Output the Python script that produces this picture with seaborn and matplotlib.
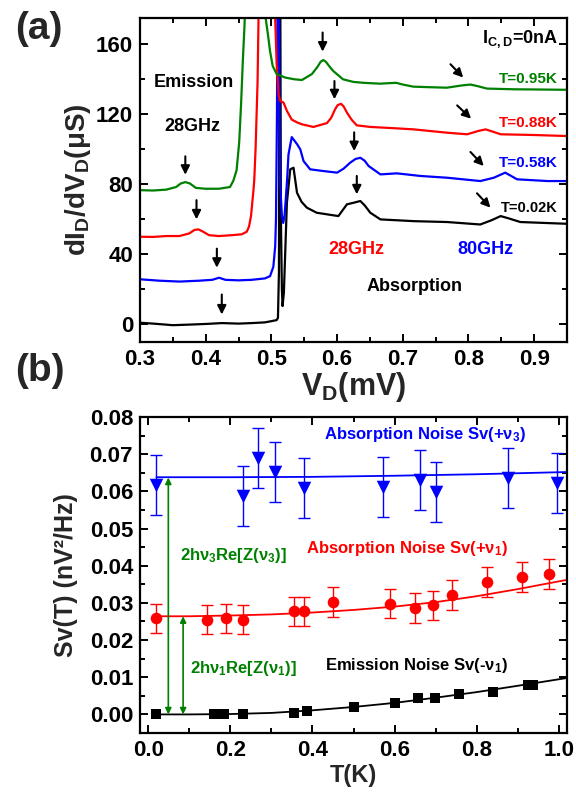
import matplotlib
matplotlib.use("Agg")
import matplotlib.pyplot as plt
import seaborn as sns
import numpy as np
from matplotlib.ticker import MultipleLocator, FormatStrFormatter

# ---------------- Panel (a) data: dI/dV traces ----------------
green_v = [0.30, 0.32, 0.34, 0.355, 0.362, 0.369, 0.376, 0.385, 0.40, 0.42, 0.437, 0.442, 0.447, 0.451,
           0.454, 0.4566, 0.459, 0.462, 0.488, 0.4916, 0.4946, 0.498, 0.502, 0.508, 0.521, 0.535, 0.5465,
           0.5617, 0.570, 0.575, 0.579, 0.583, 0.588, 0.594, 0.609, 0.625, 0.640, 0.665, 0.690, 0.700,
           0.716, 0.740, 0.767, 0.790, 0.803, 0.815, 0.828, 0.869, 0.900, 0.950]
green_g = [76.7, 76.5, 77.0, 78.5, 80.5, 81.3, 80.5, 78.0, 77.5, 77.5, 78.5, 82.0, 88.0, 104.0,
           127.0, 151.0, 170.0, 200.0, 200.0, 174.0, 166.0, 156.0, 147.6, 143.0, 141.0, 140.0, 139.6,
           143.0, 147.0, 150.0, 151.0, 150.0, 147.5, 144.8, 140.0, 138.5, 138.0, 137.5, 138.0, 137.0,
           135.8, 135.5, 135.2, 136.5, 137.0, 136.0, 134.7, 134.3, 134.2, 134.0]

red_v = [0.30, 0.32, 0.34, 0.36, 0.375, 0.383, 0.389, 0.396, 0.405, 0.42, 0.44, 0.455, 0.4626, 0.466,
         0.469, 0.4728, 0.474, 0.476, 0.479, 0.4805, 0.482, 0.504, 0.5058, 0.508, 0.511, 0.5134, 0.5185,
         0.5236, 0.531, 0.539, 0.5465, 0.564, 0.5846, 0.591, 0.597, 0.601, 0.606, 0.610, 0.615, 0.622,
         0.630, 0.6506, 0.690, 0.717, 0.7675, 0.798, 0.815, 0.826, 0.838, 0.849, 0.899, 0.950]
red_g = [50.1, 50.0, 50.5, 50.5, 52.0, 54.0, 54.3, 53.0, 51.0, 50.5, 51.0, 51.5, 53.0, 56.0,
         62.0, 77.0, 83.0, 101.0, 139.0, 177.0, 220.0, 220.0, 175.0, 148.6, 131.0, 127.6, 126.7,
         122.0, 117.0, 115.4, 114.3, 112.8, 115.0, 118.0, 122.9, 125.3, 126.0, 124.5, 121.0, 117.0,
         113.7, 112.8, 112.0, 111.4, 109.5, 108.6, 110.5, 111.4, 110.0, 108.6, 108.2, 107.6]

blue_v = [0.30, 0.33, 0.36, 0.39, 0.41, 0.4204, 0.43, 0.45, 0.47, 0.49, 0.498, 0.503, 0.5058, 0.507,
          0.5085, 0.5095, 0.5115, 0.5125, 0.5134, 0.516, 0.518, 0.520, 0.522, 0.524, 0.526, 0.531,
          0.539, 0.544, 0.549, 0.559, 0.5794, 0.600, 0.610, 0.620, 0.628, 0.6354, 0.642, 0.648, 0.666,
          0.691, 0.727, 0.7675, 0.818, 0.8386, 0.856, 0.874, 0.920, 0.950]
blue_g = [25.8, 25.0, 24.5, 25.0, 25.5, 26.7, 25.5, 25.2, 25.5, 26.3, 27.6, 33.0, 44.7, 60.0,
          120.0, 200.0, 200.0, 120.0, 80.0, 62.0, 58.0, 62.0, 72.0, 83.0, 97.0, 107.0,
          103.0, 100.0, 93.3, 88.6, 87.6, 86.7, 89.0, 92.4, 94.5, 95.2, 93.5, 90.5, 85.7,
          86.3, 84.8, 83.8, 81.9, 83.8, 86.7, 82.9, 81.9, 81.9]

black_v = [0.30, 0.32, 0.35, 0.38, 0.40, 0.425, 0.45, 0.47, 0.49, 0.50, 0.508, 0.510, 0.5115, 0.5125,
           0.5135, 0.5145, 0.516, 0.517, 0.519, 0.5236, 0.5287, 0.5337, 0.539, 0.546, 0.554, 0.569,
           0.602, 0.608, 0.615, 0.625, 0.6354, 0.642, 0.6506, 0.666, 0.717, 0.7675, 0.818, 0.835, 0.849,
           0.862, 0.879, 0.950]
black_g = [1.0, 0.5, -0.4, 0.0, 0.3, 0.8, 0.5, 0.8, 1.2, 1.9, 2.5, 3.8, 30.0, 200.0,
           200.0, 60.0, 20.0, 10.5, 18.0, 69.5, 88.6, 89.5, 75.2, 70.0, 66.7, 63.8,
           61.9, 65.0, 68.6, 69.5, 70.5, 68.0, 63.8, 60.0, 59.0, 58.5, 57.1, 59.5, 61.9,
           60.5, 58.5, 57.5]

# ---------------- Panel (b) data: noise vs temperature ----------------
emis_T = [0.02, 0.16, 0.185, 0.23, 0.356, 0.387, 0.50, 0.60, 0.656, 0.698, 0.756, 0.839, 0.924, 0.936]
emis_S = [0.0, 0.0, 0.0, 0.0, 0.0005, 0.0008, 0.0020, 0.0030, 0.0043, 0.0045, 0.0056, 0.0060, 0.0078, 0.0078]

abs1_T = [0.02, 0.143, 0.19, 0.232, 0.355, 0.379, 0.449, 0.588, 0.649, 0.693, 0.741, 0.824, 0.91, 0.976]
abs1_S = [0.0258, 0.0255, 0.0258, 0.0255, 0.0277, 0.0277, 0.0303, 0.0298, 0.0287, 0.0293, 0.0322, 0.0357, 0.0370, 0.0378]
abs1_err = [0.004, 0.004, 0.004, 0.004, 0.004, 0.004, 0.004, 0.004, 0.004, 0.004, 0.004, 0.004, 0.004, 0.004]

abs3_T = [0.02, 0.232, 0.268, 0.31, 0.38, 0.571, 0.661, 0.702, 0.876, 0.995]
abs3_S = [0.0617, 0.0588, 0.0690, 0.0652, 0.0609, 0.0612, 0.0630, 0.0598, 0.0636, 0.0623]
abs3_err = [0.008, 0.008, 0.008, 0.008, 0.008, 0.008, 0.008, 0.008, 0.008, 0.008]

fit3_T = [0.02, 0.2, 0.4, 0.6, 0.8, 1.02]
fit3_S = [0.0638, 0.0638, 0.0639, 0.0642, 0.0646, 0.0652]
fit1_T = [0.02, 0.1, 0.2, 0.3, 0.4, 0.5, 0.6, 0.7, 0.8, 0.9, 1.02]
fit1_S = [0.0264, 0.0264, 0.0266, 0.0269, 0.0274, 0.0281, 0.0290, 0.0302, 0.0318, 0.0337, 0.0362]
fitE_T = [0.02, 0.1, 0.2, 0.3, 0.4, 0.5, 0.6, 0.7, 0.8, 0.9, 1.02]
fitE_S = [0.0, 0.0, 0.0001, 0.0004, 0.0011, 0.0020, 0.0031, 0.0045, 0.0060, 0.0077, 0.0098]

GREEN = "#008000"
RED = "#ff0000"
BLUE = "#0000ff"
BLACK = "#000000"

sns.set_theme(style="ticks")
plt.rcParams["font.family"] = ["Liberation Sans", "DejaVu Sans"]
plt.rcParams["font.weight"] = "bold"
plt.rcParams["axes.labelweight"] = "bold"
plt.rcParams["mathtext.default"] = "regular"

fig = plt.figure(figsize=(5.76, 7.93), dpi=100)
ax1 = fig.add_axes([140/576, 1-342/793, 427/576, 324/793])
ax2 = fig.add_axes([140/576, 1-733/793, 427/576, 316/793])


def style_axes(ax):
    for s in ax.spines.values():
        s.set_linewidth(1.6)
        s.set_color("black")
    ax.tick_params(which="both", direction="in", top=True, right=True, width=1.4, colors="black")
    ax.tick_params(which="major", length=6, labelsize=16, pad=5)
    ax.tick_params(which="minor", length=3.5)
    for lab in ax.get_xticklabels() + ax.get_yticklabels():
        lab.set_fontweight("bold")


# ---------------- Panel (a) ----------------
for v, g, c in [(black_v, black_g, BLACK), (blue_v, blue_g, BLUE), (red_v, red_g, RED), (green_v, green_g, GREEN)]:
    sns.lineplot(x=v, y=g, ax=ax1, color=c, lw=1.6, sort=False, estimator=None)

ax1.set_xlim(0.3, 0.95)
ax1.set_ylim(-10, 175)
ax1.xaxis.set_major_locator(MultipleLocator(0.1))
ax1.xaxis.set_minor_locator(MultipleLocator(0.05))
ax1.yaxis.set_major_locator(MultipleLocator(40))
ax1.yaxis.set_minor_locator(MultipleLocator(20))
ax1.xaxis.set_major_formatter(FormatStrFormatter("%.1f"))
ax1.set_xlabel("V$_D$(mV)", fontsize=22, fontweight="bold", labelpad=0)
ax1.set_ylabel("dI$_D$/dV$_D$(μS)", fontsize=20, fontweight="bold", labelpad=2)
style_axes(ax1)

arrow_kw = dict(arrowstyle="-|>", color="black", lw=1.5, mutation_scale=13, shrinkA=0, shrinkB=0)
for (x0, y0, y1) in [(0.369, 96, 85.5), (0.386, 71, 60), (0.417, 43.3, 32.4), (0.4245, 17.1, 5.7),
                      (0.578, 166.7, 155.8), (0.596, 139, 128.6), (0.626, 109.7, 99), (0.630, 84.8, 74.3)]:
    ax1.annotate("", xy=(x0, y1), xytext=(x0, y0), arrowprops=arrow_kw)
for (x0, y0, x1, y1) in [(0.7726, 148.6, 0.792, 141), (0.7828, 125.1, 0.804, 117.5),
                          (0.803, 98.5, 0.8233, 90.5), (0.813, 74.9, 0.8335, 66.7)]:
    ax1.annotate("", xy=(x1, y1), xytext=(x0, y0), arrowprops=arrow_kw)

ax1.text(0.9357, 162.9, "I$_{C,D}$=0nA", ha="right", va="center", fontsize=13, fontweight="bold", color=BLACK)
ax1.text(0.9357, 140, "T=0.95K", ha="right", va="center", fontsize=11, fontweight="bold", color=GREEN)
ax1.text(0.9357, 114.9, "T=0.88K", ha="right", va="center", fontsize=11, fontweight="bold", color=RED)
ax1.text(0.9357, 92, "T=0.58K", ha="right", va="center", fontsize=11, fontweight="bold", color=BLUE)
ax1.text(0.9357, 66.7, "T=0.02K", ha="right", va="center", fontsize=10.5, fontweight="bold", color=BLACK)
ax1.text(0.382, 138, "Emission", ha="center", va="center", fontsize=13, fontweight="bold", color=BLACK)
ax1.text(0.379, 113.3, "28GHz", ha="center", va="center", fontsize=13, fontweight="bold", color=BLACK)
ax1.text(0.63, 42.9, "28GHz", ha="center", va="center", fontsize=13, fontweight="bold", color=RED)
ax1.text(0.826, 42.9, "80GHz", ha="center", va="center", fontsize=13, fontweight="bold", color=BLUE)
ax1.text(0.7177, 21.9, "Absorption", ha="center", va="center", fontsize=13, fontweight="bold", color=BLACK)

# ---------------- Panel (b) ----------------
sns.lineplot(x=fit3_T, y=fit3_S, ax=ax2, color=BLUE, lw=1.3, sort=False, estimator=None)
sns.lineplot(x=fit1_T, y=fit1_S, ax=ax2, color=RED, lw=1.3, sort=False, estimator=None)
sns.lineplot(x=fitE_T, y=fitE_S, ax=ax2, color=BLACK, lw=1.3, sort=False, estimator=None)

ax2.errorbar(abs3_T, abs3_S, yerr=abs3_err, fmt="none", ecolor=BLUE, elinewidth=1.0, capsize=4, capthick=1.0)
ax2.errorbar(abs1_T, abs1_S, yerr=abs1_err, fmt="none", ecolor=RED, elinewidth=1.0, capsize=4, capthick=1.0)
sns.scatterplot(x=abs3_T, y=abs3_S, ax=ax2, marker="v", color=BLUE, s=95, edgecolor=BLUE, linewidth=0, zorder=5)
sns.scatterplot(x=abs1_T, y=abs1_S, ax=ax2, marker="o", color=RED, s=70, edgecolor=RED, linewidth=0, zorder=5)
sns.scatterplot(x=emis_T, y=emis_S, ax=ax2, marker="s", color=BLACK, s=48, edgecolor=BLACK, linewidth=0, zorder=5)

garrow = dict(arrowstyle="<|-|>", color=GREEN, lw=1.2, mutation_scale=9, shrinkA=0, shrinkB=0)
ax2.annotate("", xy=(0.049, 0.0637), xytext=(0.049, 0.0), arrowprops=garrow)
ax2.annotate("", xy=(0.085, 0.0264), xytext=(0.085, 0.0), arrowprops=garrow)

ax2.text(0.207, 0.0427, "2hν$_3$Re[Z(ν$_3$)]", ha="center", va="center", fontsize=12, fontweight="bold", color=GREEN)
ax2.text(0.232, 0.0124, "2hν$_1$Re[Z(ν$_1$)]", ha="center", va="center", fontsize=12, fontweight="bold", color=GREEN)
ax2.text(0.673, 0.0754, "Absorption Noise Sv(+ν$_3$)", ha="center", va="center", fontsize=12, fontweight="bold", color=BLUE)
ax2.text(0.631, 0.0446, "Absorption Noise Sv(+ν$_1$)", ha="center", va="center", fontsize=12, fontweight="bold", color=RED)
ax2.text(0.654, 0.0132, "Emission Noise Sv(-ν$_1$)", ha="center", va="center", fontsize=12, fontweight="bold", color=BLACK)

ax2.set_xlim(-0.02, 1.02)
ax2.set_ylim(-0.005, 0.08)
ax2.xaxis.set_major_locator(MultipleLocator(0.2))
ax2.xaxis.set_minor_locator(MultipleLocator(0.1))
ax2.yaxis.set_major_locator(MultipleLocator(0.01))
ax2.yaxis.set_minor_locator(MultipleLocator(0.005))
ax2.xaxis.set_major_formatter(FormatStrFormatter("%.1f"))
ax2.yaxis.set_major_formatter(FormatStrFormatter("%.2f"))
ax2.set_xlabel("T(K)", fontsize=17, fontweight="bold", labelpad=2)
ax2.set_ylabel("Sv(T) (nV²/Hz)", fontsize=18, fontweight="bold", labelpad=8)
style_axes(ax2)

fig.text(15/576, 1-29/793, "(a)", fontsize=28, fontweight="bold", ha="left", va="center")
fig.text(15/576, 1-371/793, "(b)", fontsize=28, fontweight="bold", ha="left", va="center")

fig.savefig("out.png", dpi=100)
